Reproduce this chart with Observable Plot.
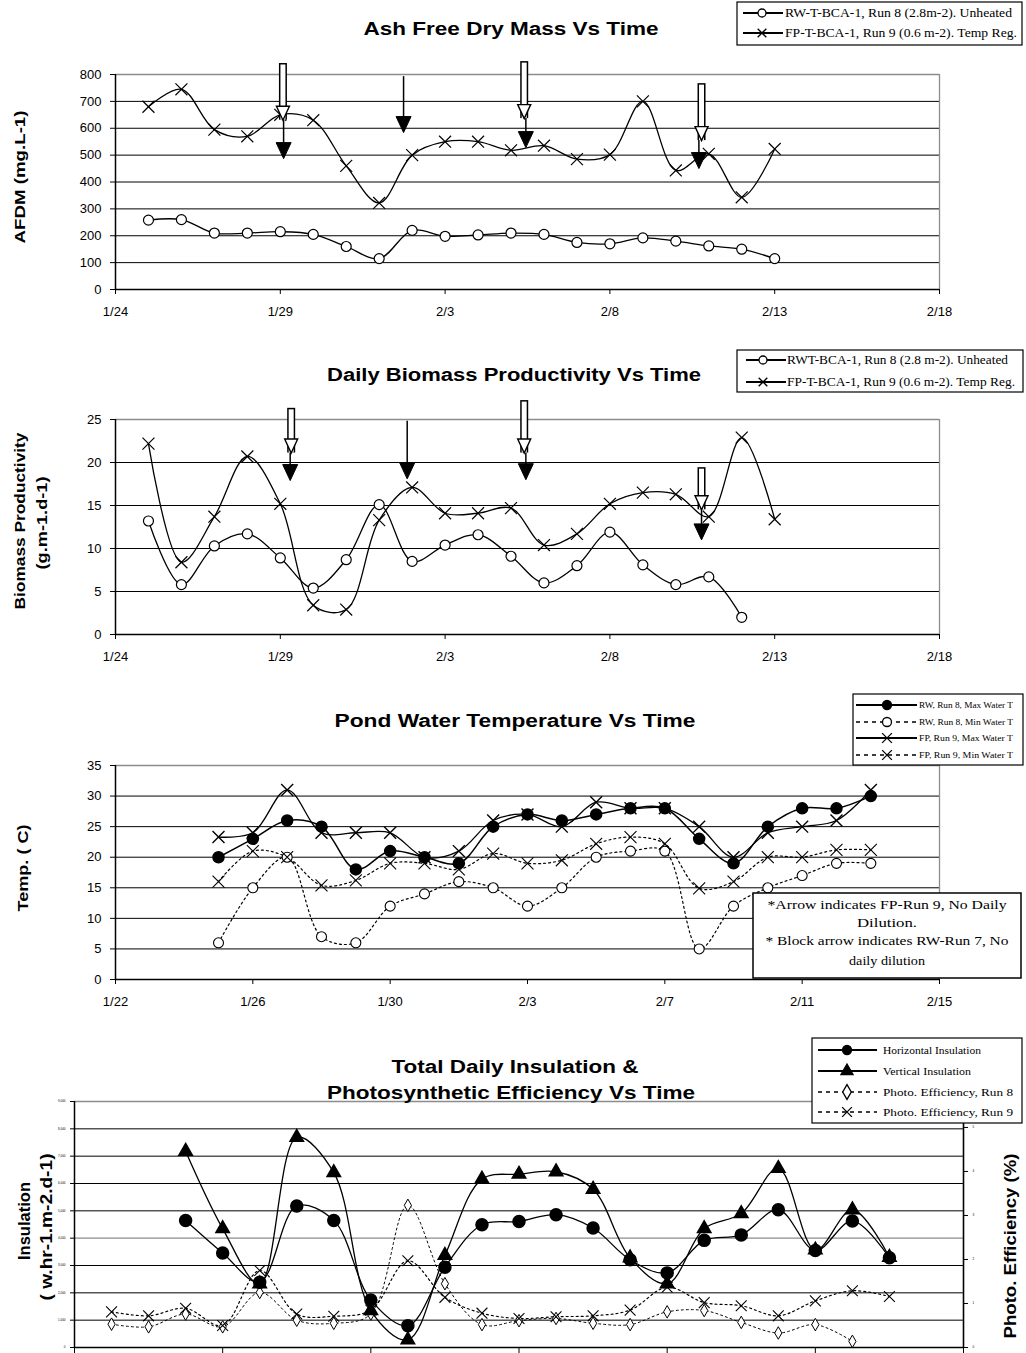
<!DOCTYPE html>
<html><head><meta charset="utf-8">
<script src="https://cdn.jsdelivr.net/npm/d3@7"></script>
<script src="https://cdn.jsdelivr.net/npm/@observablehq/plot@0.6"></script>
<style>
html,body{margin:0;padding:0;overflow:hidden;background:#fff;width:1026px;height:1353px;}
#page{position:relative;width:1026px;height:1353px;overflow:hidden;background:#fff;}
</style></head><body><div id="page"></div>
<script>
// ---------------- DATA ----------------
const YEAR = 2005;
const daysA = ["1/25","1/26","1/27","1/28","1/29","1/30","1/31","2/1","2/2","2/3","2/4","2/5","2/6","2/7","2/8","2/9","2/10","2/11","2/12","2/13"];
const daysB = ["1/23","1/24","1/25","1/26","1/27","1/28","1/29","1/30","1/31","2/1","2/2","2/3","2/4","2/5","2/6","2/7","2/8","2/9","2/10","2/11","2/12","2/13"];

// Panel 1: Ash Free Dry Mass (mg/L)
const afdmRW = [258,260,210,210,215,205,160,115,220,198,203,210,205,175,170,192,180,162,150,115];
const afdmFP = [680,745,595,570,650,630,460,322,500,550,550,518,535,485,502,700,443,505,343,523];
const afdmXDomain = ["1/24","2/18"];
const afdmXTicks = ["1/24","1/29","2/3","2/8","2/13","2/18"];
const afdmYTicks = [0,100,200,300,400,500,600,700,800];
const afdmBlockDates = ["1/29.08","2/5.4","2/10.78"];
const afdmBlockTop = [841,848,766];
const afdmBlockTip = [630,636,554];
const afdmLineDates = ["1/29.1","2/1.74","2/5.45","2/10.7"];
const afdmLineTop = [630,792,636,554];
const afdmLineTip = [487,584,528,450];

// Panel 2: Daily biomass productivity (g/m2/d)
const prodRW = [13.2,5.8,10.3,11.7,8.9,5.4,8.7,15.1,8.5,10.4,11.6,9.1,6.0,8.0,11.9,8.1,5.8,6.7,2.0];
const prodFP = [22.2,8.4,13.7,20.7,15.2,3.4,2.9,13.3,17.1,14.1,14.1,14.7,10.4,11.7,15.2,16.5,16.3,13.7,22.9,13.4];
const prodYTicks = [0,5,10,15,20,25];
const prodBlockDates = ["1/29.33","2/5.4","2/10.78"];
const prodBlockTop = [26.3,27.2,19.4];
const prodBlockTip = [21.1,21.1,14.5];
const prodLineDates = ["1/29.3","2/1.85","2/5.45","2/10.78"];
const prodLineTop = [21.1,24.8,21.1,14.5];
const prodLineTip = [17.9,18.1,18.0,11.0];

// Panel 3: Pond water temperature (C)
const rwMax = [20,23,26,25,18,21,20,19,25,27,26,27,28,28,23,19,25,28,28,30];
const rwMin = [6,15,20,7,6,12,14,16,15,12,15,20,21,21,5,12,15,17,19,19];
const fpMax = [23.3,24,31,24,24,24,20,21,26,27,25,29,28,28,25,20,24,25,26,31];
const fpMin = [16,21,20,15.4,16.2,19,19,18,20.6,19,19.5,22.2,23.3,22.2,14.9,16,20,20,21.2,21.2];
const tempXDomain = ["1/22","2/15"];
const tempXTicks = ["1/22","1/26","1/30","2/3","2/7","2/11","2/15"];
const tempYTicks = [0,5,10,15,20,25,30,35];

// Panel 4: Insulation (w.hr/m2/d) and photosynthetic efficiency (%)
const horizIns = [4650,3460,2390,5180,4650,1740,800,2940,4490,4610,4860,4370,3210,2730,3920,4120,5040,3550,4630,3280];
const vertIns  = [7180,4350,2330,7690,6400,1350,280,3370,6160,6340,6430,5790,3280,2330,4350,4900,6550,3570,5040,3300];
const effRun8 = [0.53,0.47,0.76,0.47,1.25,0.62,0.55,0.76,3.23,1.45,0.52,0.61,0.66,0.55,0.52,0.81,0.84,0.57,0.33,0.52,0.14];
const effRun9 = [0.81,0.72,0.89,0.50,1.75,0.76,0.71,0.85,1.97,1.14,0.78,0.66,0.70,0.72,0.85,1.37,1.02,0.95,0.72,1.06,1.29,1.16];
const insYTicks = [0,1000,2000,3000,4000,5000,6000,7000,8000,9000];
const effTicks = [0,1,2,3,4,5];
const effToIns = 1610; // one % of efficiency on the right axis equals this many insulation units

// ---------------- HELPERS ----------------
const D = s => { const [m, d] = s.split("/").map(Number); return new Date(Date.UTC(YEAR, m - 1, 1) + (d - 1) * 864e5); };
const fmt = d => `${d.getUTCMonth() + 1}/${d.getUTCDate()}`;
const series = (dates, vals) => vals.map((v, i) => ({date: D(dates[i]), v}));
const arrows = (dates, top, tip) => dates.map((d, i) => ({date: D(d), top: top[i], tip: tip[i]}));
const SANS = "Arial, 'Liberation Sans', Helvetica, sans-serif";
const SERIF = "'Times New Roman', 'Liberation Serif', serif";

const hollowHead = {draw(c) { c.moveTo(-6.5, -14); c.lineTo(6.5, -14); c.lineTo(0, 0); c.closePath(); }};
const filledHead = {draw(c) { c.moveTo(-7.5, -16); c.lineTo(7.5, -16); c.lineTo(0, 0); c.closePath(); }};

function blockArrowMarks(data) {
  return [
    Plot.ruleX(data, {x: "date", y1: "top", y2: "tip", stroke: "#000", strokeWidth: 8}),
    Plot.ruleX(data, {x: "date", y1: "top", y2: "tip", stroke: "#fff", strokeWidth: 5, insetTop: 1.5}),
    Plot.dot(data, {x: "date", y: "tip", symbol: hollowHead, r: 5, fill: "#fff", stroke: "#000", strokeWidth: 1.4})
  ];
}
function lineArrowMarks(data) {
  return [
    Plot.ruleX(data, {x: "date", y1: "top", y2: "tip", stroke: "#000", strokeWidth: 1.5, insetBottom: 8}),
    Plot.dot(data, {x: "date", y: "tip", symbol: filledHead, r: 5, fill: "#000", stroke: "#000", strokeWidth: 1})
  ];
}
function frameMarks(xDom, yMax, grid, greyGrid = []) {
  return [
    Plot.ruleY(grid, {stroke: "#000", strokeWidth: 1}),
    Plot.ruleY([yMax, ...greyGrid], {stroke: "#8c8c8c", strokeWidth: 1.3}),
    Plot.ruleX([D(xDom[1])], {stroke: "#8c8c8c", strokeWidth: 1.3}),
    Plot.ruleX([D(xDom[0])], {stroke: "#000", strokeWidth: 1.5}),
    Plot.ruleY([0], {stroke: "#000", strokeWidth: 1.5})
  ];
}
const baseStyle = {fontFamily: SANS, fontSize: "13px", color: "#000", background: "transparent", overflow: "visible"};

const page = document.getElementById("page");
function place(svg, top) { svg.style.position = "absolute"; svg.style.left = "0px"; svg.style.top = top + "px"; page.appendChild(svg); }

const solid = {stroke: "#000", strokeWidth: 1.3, curve: "catmull-rom"};
const dotted = {stroke: "#000", strokeWidth: 1.2, strokeDasharray: "2,3", curve: "catmull-rom"};

// ---------------- PANEL 1 ----------------
{
  const rw = series(daysA, afdmRW), fp = series(daysA, afdmFP);
  const p = Plot.plot({
    width: 1026, height: 275, marginTop: 24, marginBottom: 36, marginLeft: 115, marginRight: 87,
    style: baseStyle,
    x: {type: "utc", domain: afdmXDomain.map(D), label: null},
    y: {domain: [0, 800], label: null},
    marks: [
      ...frameMarks(afdmXDomain, 800, afdmYTicks.slice(1, -1)),
      Plot.axisX({ticks: afdmXTicks.map(D), tickFormat: fmt, tickSize: 5, tickPadding: 12, label: null, fontSize: 13}),
      Plot.axisY({ticks: afdmYTicks, tickSize: 5, tickPadding: 9, label: null, fontSize: 13}),
      Plot.line(rw, {x: "date", y: "v", ...solid}),
      Plot.line(fp, {x: "date", y: "v", ...solid}),
      Plot.dot(rw, {x: "date", y: "v", r: 5, fill: "#fff", stroke: "#000", strokeWidth: 1.2}),
      Plot.dot(fp, {x: "date", y: "v", symbol: "times", r: 5.5, fill: "none", stroke: "#000", strokeWidth: 1.2}),
      ...lineArrowMarks(arrows(afdmLineDates, afdmLineTop, afdmLineTip)),
      ...blockArrowMarks(arrows(afdmBlockDates, afdmBlockTop, afdmBlockTip))
    ]
  });
  place(p, 50);
}

// ---------------- PANEL 2 ----------------
{
  const rw = series(daysA, prodRW), fp = series(daysA, prodFP);
  const p = Plot.plot({
    width: 1026, height: 270, marginTop: 24, marginBottom: 31, marginLeft: 115, marginRight: 87,
    style: baseStyle,
    x: {type: "utc", domain: afdmXDomain.map(D), label: null},
    y: {domain: [0, 25], label: null},
    marks: [
      ...frameMarks(afdmXDomain, 25, prodYTicks.slice(1, -1)),
      Plot.axisX({ticks: afdmXTicks.map(D), tickFormat: fmt, tickSize: 5, tickPadding: 12, label: null, fontSize: 13}),
      Plot.axisY({ticks: prodYTicks, tickSize: 5, tickPadding: 9, label: null, fontSize: 13}),
      Plot.line(rw, {x: "date", y: "v", ...solid}),
      Plot.line(fp, {x: "date", y: "v", ...solid}),
      Plot.dot(rw, {x: "date", y: "v", r: 5, fill: "#fff", stroke: "#000", strokeWidth: 1.2}),
      Plot.dot(fp, {x: "date", y: "v", symbol: "times", r: 5.5, fill: "none", stroke: "#000", strokeWidth: 1.2}),
      ...lineArrowMarks(arrows(prodLineDates, prodLineTop, prodLineTip)),
      ...blockArrowMarks(arrows(prodBlockDates, prodBlockTop, prodBlockTip))
    ]
  });
  place(p, 395);
}

// ---------------- PANEL 3 ----------------
{
  const a = series(daysA, rwMax), b = series(daysA, rwMin), c = series(daysA, fpMax), d = series(daysA, fpMin);
  const p = Plot.plot({
    width: 1026, height: 285, marginTop: 20, marginBottom: 51, marginLeft: 115, marginRight: 87,
    style: baseStyle,
    x: {type: "utc", domain: tempXDomain.map(D), label: null},
    y: {domain: [0, 35], label: null},
    marks: [
      ...frameMarks(tempXDomain, 35, tempYTicks.slice(1, -1)),
      Plot.axisX({ticks: tempXTicks.map(D), tickFormat: fmt, tickSize: 5, tickPadding: 12, label: null, fontSize: 13}),
      Plot.axisY({ticks: tempYTicks, tickSize: 5, tickPadding: 9, label: null, fontSize: 13}),
      Plot.line(b, {x: "date", y: "v", ...dotted}),
      Plot.line(d, {x: "date", y: "v", ...dotted}),
      Plot.line(a, {x: "date", y: "v", ...solid, strokeWidth: 1.5}),
      Plot.line(c, {x: "date", y: "v", ...solid}),
      Plot.dot(b, {x: "date", y: "v", r: 5, fill: "#fff", stroke: "#000", strokeWidth: 1.1}),
      Plot.dot(d, {x: "date", y: "v", symbol: "times", r: 5.5, fill: "none", stroke: "#000", strokeWidth: 1.1}),
      Plot.dot(a, {x: "date", y: "v", r: 5.5, fill: "#000", stroke: "#000"}),
      Plot.dot(c, {x: "date", y: "v", symbol: "times", r: 5.5, fill: "none", stroke: "#000", strokeWidth: 1.4})
    ]
  });
  place(p, 745);
}

// ---------------- PANEL 4 ----------------
{
  const h = series(daysA, horizIns), v = series(daysA, vertIns), e8 = series(daysB, effRun8), e9 = series(daysB, effRun9);
  const ey = d => d.v * effToIns;
  const p = Plot.plot({
    width: 1026, height: 262, marginTop: 11, marginBottom: 5, marginLeft: 74, marginRight: 63,
    style: baseStyle,
    x: {type: "utc", domain: tempXDomain.map(D), label: null},
    y: {domain: [0, 9000], label: null},
    marks: [
      ...frameMarks(tempXDomain, 9000, insYTicks.filter(t => t > 0 && t < 9000 && t !== 4000), [4000]),
      Plot.ruleX([D(tempXDomain[1])], {stroke: "#000", strokeWidth: 1.5}),
      // x tick labels fall below the bottom edge of the picture in the reference: only the tick marks show
      Plot.axisX({ticks: tempXTicks.map(D), tickFormat: () => "", fill: "none", tickSize: 6, label: null}),
      Plot.axisY({ticks: insYTicks, tickSize: 4, tickPadding: 5, label: null, fontSize: 3}),
      Plot.axisY({ticks: effTicks.map(t => t * effToIns), anchor: "right", tickFormat: t => d3.format(".0f")(t / effToIns), tickSize: 4, tickPadding: 5, label: null, fontSize: 3}),
      Plot.line(e8, {x: "date", y: ey, ...dotted, strokeWidth: 1}),
      Plot.line(e9, {x: "date", y: ey, ...dotted}),
      Plot.line(v, {x: "date", y: "v", ...solid}),
      Plot.line(h, {x: "date", y: "v", ...solid}),
      Plot.dot(e8, {x: "date", y: ey, symbol: "diamond", r: 3.8, fill: "#fff", stroke: "#000", strokeWidth: 1}),
      Plot.dot(e9, {x: "date", y: ey, symbol: "times", r: 5, fill: "none", stroke: "#000", strokeWidth: 1.1}),
      Plot.dot(v, {x: "date", y: "v", symbol: "triangle", r: 5, fill: "#000", stroke: "#000"}),
      Plot.dot(h, {x: "date", y: "v", r: 6, fill: "#000", stroke: "#000"})
    ]
  });
  place(p, 1090);
}

// ---------------- TITLES, AXIS TITLES, LEGENDS ----------------
const ov = d3.select(page).append("svg").attr("width", 1026).attr("height", 1353)
  .style("position", "absolute").style("left", "0px").style("top", "0px");

function title(txt, cx, y, len) {
  ov.append("text").attr("x", cx).attr("y", y).attr("text-anchor", "middle")
    .attr("font-family", SANS).attr("font-weight", "bold").attr("font-size", 18)
    .attr("textLength", len).attr("lengthAdjust", "spacingAndGlyphs").text(txt);
}
function ytitle(txt, cx, cy, len, size = 14) {
  ov.append("text").attr("transform", `translate(${cx},${cy}) rotate(-90)`).attr("text-anchor", "middle")
    .attr("dy", "0.36em").attr("font-family", SANS).attr("font-weight", "bold").attr("font-size", size)
    .attr("textLength", len).attr("lengthAdjust", "spacingAndGlyphs").text(txt);
}
function marker(kind, x, y, s) {
  const types = {circle: d3.symbolCircle, times: d3.symbolTimes, triangle: d3.symbolTriangle, diamond: d3.symbolDiamond};
  const [type, fill] = {
    openCircle: ["circle", "#fff"], fillCircle: ["circle", "#000"], times: ["times", "none"],
    triangle: ["triangle", "#000"], diamond: ["diamond", "#fff"]
  }[kind];
  ov.append("path").attr("d", d3.symbol(types[type], s * s * Math.PI)()).attr("transform", `translate(${x},${y})`)
    .attr("fill", fill).attr("stroke", "#000").attr("stroke-width", 1.3);
}
function legend(box, spec, rows) {
  ov.append("rect").attr("x", box[0]).attr("y", box[1]).attr("width", box[2]).attr("height", box[3])
    .attr("fill", "#fff").attr("stroke", "#000").attr("stroke-width", 1.2);
  rows.forEach(r => {
    ov.append("line").attr("x1", spec.l1).attr("x2", spec.l2).attr("y1", r.y).attr("y2", r.y)
      .attr("stroke", "#000").attr("stroke-width", r.dash ? 1.6 : 2).attr("stroke-dasharray", r.dash ? "4,4" : null);
    marker(r.marker, spec.m, r.y, spec.ms);
    ov.append("text").attr("x", spec.tx).attr("y", r.y).attr("dy", "0.35em").attr("font-family", SERIF)
      .attr("font-size", spec.fs).attr("textLength", r.len).attr("lengthAdjust", "spacingAndGlyphs").text(r.text);
  });
}

title("Ash Free Dry Mass Vs Time", 511, 35, 295);
title("Daily Biomass Productivity Vs Time", 514, 381, 374);
title("Pond Water Temperature Vs Time", 515, 727, 361);
title("Total Daily Insulation &", 515, 1073, 247);
title("Photosynthetic Efficiency Vs Time", 511, 1099, 368);

ytitle("AFDM (mg.L-1)", 20, 177, 133);
ytitle("Biomass Productivity", 20, 521, 177);
ytitle("(g.m-1.d-1)", 42, 523, 93);
ytitle("Temp. ( C)", 23, 868, 87);
ytitle("Insulation", 24, 1221, 78, 16);
ytitle("( w.hr-1.m-2.d-1)", 46, 1227, 147, 16);
ytitle("Photo. Efficiency (%)", 1010, 1246, 185, 16);

legend([737, 2, 285, 43], {l1: 743, l2: 783, m: 762, ms: 4, tx: 785, fs: 12}, [
  {y: 13, marker: "openCircle", text: "RW-T-BCA-1, Run 8 (2.8m-2). Unheated", len: 227},
  {y: 33, marker: "times", text: "FP-T-BCA-1, Run 9 (0.6 m-2). Temp Reg.", len: 232}
]);
legend([737, 350, 286, 42], {l1: 746, l2: 786, m: 763, ms: 4, tx: 787, fs: 12}, [
  {y: 360, marker: "openCircle", text: "RWT-BCA-1, Run 8 (2.8 m-2). Unheated", len: 221},
  {y: 382, marker: "times", text: "FP-T-BCA-1, Run 9 (0.6 m-2). Temp Reg.", len: 228}
]);
legend([853, 694, 170, 71], {l1: 856, l2: 917, m: 887, ms: 4.5, tx: 919, fs: 8}, [
  {y: 705, marker: "fillCircle", text: "RW, Run 8, Max Water T", len: 94},
  {y: 722, marker: "openCircle", dash: true, text: "RW, Run 8, Min Water T", len: 94},
  {y: 738, marker: "times", text: "FP, Run 9, Max Water T", len: 94},
  {y: 755, marker: "times", dash: true, text: "FP, Run 9, Min Water T", len: 94}
]);
legend([812, 1038, 210, 85], {l1: 818, l2: 877, m: 847, ms: 4.5, tx: 883, fs: 11}, [
  {y: 1050, marker: "fillCircle", text: "Horizontal Insulation", len: 98},
  {y: 1071, marker: "triangle", text: "Vertical Insulation", len: 88},
  {y: 1092, marker: "diamond", dash: true, text: "Photo. Efficiency, Run 8", len: 130},
  {y: 1112, marker: "times", dash: true, text: "Photo. Efficiency, Run 9", len: 130}
]);

// note box in panel 3
ov.append("rect").attr("x", 753).attr("y", 893).attr("width", 268).attr("height", 85)
  .attr("fill", "#fff").attr("stroke", "#000").attr("stroke-width", 1.5);
[["*Arrow indicates FP-Run 9, No Daily", 909, 239], ["Dilution.", 927, 60],
 ["* Block arrow indicates RW-Run 7, No", 945, 243], ["daily dilution", 965, 76]].forEach(([t, y, len]) => {
  ov.append("text").attr("x", 887).attr("y", y).attr("text-anchor", "middle").attr("font-family", SERIF)
    .attr("font-size", 12.5).attr("textLength", len).attr("lengthAdjust", "spacingAndGlyphs").text(t);
});
</script></body></html>
